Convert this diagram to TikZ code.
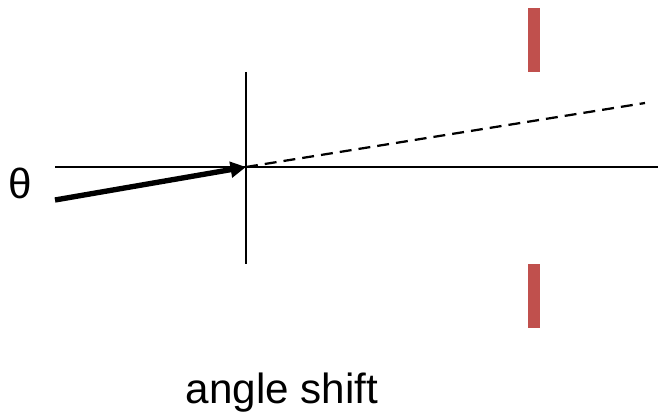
\documentclass[tikz,border=0pt]{standalone}
\usepackage{fontspec}
\setmainfont{Liberation Sans}
\usetikzlibrary{
  positioning,
  arrows.meta
}
\definecolor{slitred}{HTML}{C0504D}

\begin{document}
\begin{tikzpicture}[
    x=0.025cm, y=-0.025cm,
    every node/.style={font=\fontsize{30}{36}\selectfont},
    axis/.style={line width=1.7pt, black},
    beam/.style={line width=3.8pt, -{Triangle[length=11pt,width=11pt]}},
    ray/.style={line width=1.6pt, dash pattern=on 8.5pt off 5pt},
    slit/.style={
        rectangle,
        draw=none,
        fill=slitred,
        inner sep=0pt,
        minimum width=8.5pt,
        minimum height=45.5pt
    }
]
\useasboundingbox (0,0) rectangle (658,420);

% Points
\coordinate (axisL) at (55,167);
\coordinate (axisR) at (658,167);
\coordinate (lensT) at (246,72);
\coordinate (lensB) at (246,264);
\coordinate (focus) at (246,167);
\coordinate (beamin) at (55,200);
\coordinate (rayend) at (645,103);

% Slits
\node[slit] (slittop) at (534,40) {};
\node[slit] (slitbot) at (534,296) {};

% Labels
\node (theta) at (20,183) {θ};
\node (shift) at (282,393) {angle shift};

% Lines
\draw[axis] (axisL) -- (axisR);
\draw[axis] (lensT) -- (lensB);
\draw[ray] (focus) -- (rayend);
\draw[beam] (beamin) -- (focus);

\end{tikzpicture}
\end{document}
